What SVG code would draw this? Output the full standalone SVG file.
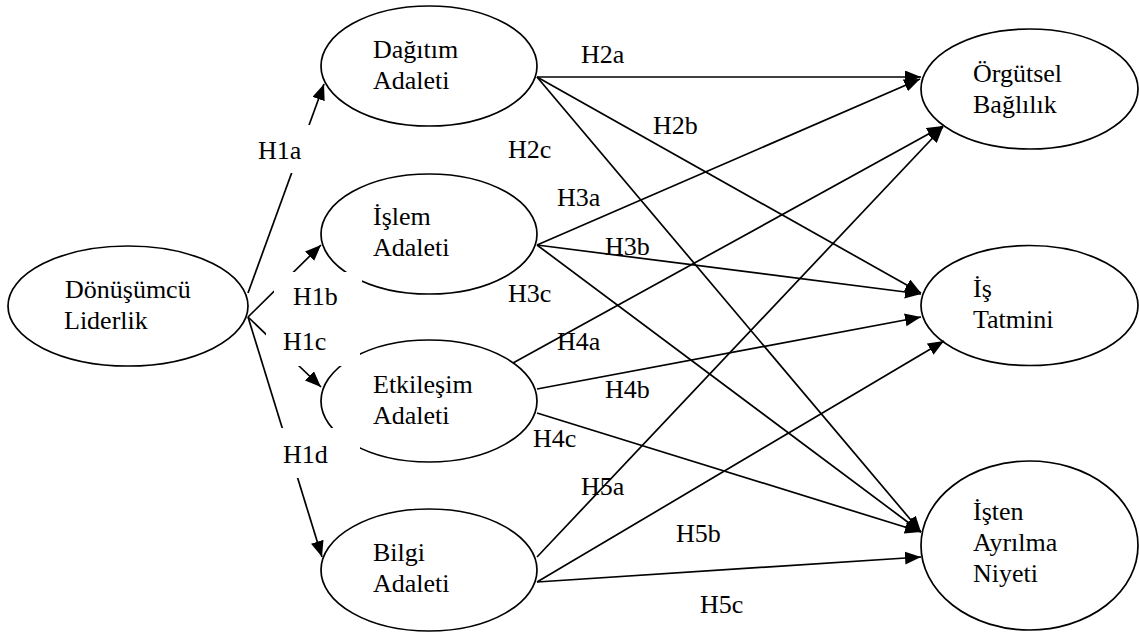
<svg xmlns="http://www.w3.org/2000/svg" width="1139" height="635" viewBox="0 0 1139 635" font-family="'Liberation Serif', 'DejaVu Serif', serif">
  <style>
    .node ellipse { fill: #fff; stroke: #000; stroke-width: 1.7; }
    text { font-family: "Liberation Serif", "DejaVu Serif", serif; font-size: 26px; fill: #000; }
    .edge line { stroke: #000; stroke-width: 1.7; marker-end: url(#arrow); }
    .lbl rect { fill: #fff; stroke: none; }
  </style>
  <defs>
    <marker id="arrow" markerUnits="userSpaceOnUse" markerWidth="18" markerHeight="14" refX="16" refY="6.5" orient="auto">
      <path d="M0,0 L16,6.5 L0,13 z" fill="#000"/>
    </marker>
  </defs>
  <rect width="1139" height="635" fill="#fff"/>

  <!-- nodes -->
  <g id="donusumcu" class="node">
    <ellipse cx="128" cy="306" rx="120" ry="60"/>
    <text x="65" y="298" font-family="Liberation Serif, serif">Dönüşümcü</text>
    <text x="64" y="329" font-family="Liberation Serif, serif">Liderlik</text>
  </g>
  <g id="dagitim" class="node">
    <ellipse cx="429" cy="66" rx="108" ry="60"/>
    <text x="373" y="58">Dağıtım</text>
    <text x="373" y="89">Adaleti</text>
  </g>
  <g id="islem" class="node">
    <ellipse cx="429" cy="234" rx="108" ry="60"/>
    <text x="373" y="225">İşlem</text>
    <text x="373" y="256">Adaleti</text>
  </g>
  <g id="etkilesim" class="node">
    <ellipse cx="429" cy="401" rx="108" ry="61"/>
    <text x="373" y="393">Etkileşim</text>
    <text x="373" y="424">Adaleti</text>
  </g>
  <g id="bilgi" class="node">
    <ellipse cx="429" cy="570" rx="108" ry="61"/>
    <text x="373" y="561">Bilgi</text>
    <text x="373" y="592">Adaleti</text>
  </g>
  <g id="orgutsel" class="node">
    <ellipse cx="1029.5" cy="89" rx="108.5" ry="60"/>
    <text x="973" y="82">Örgütsel</text>
    <text x="973" y="113">Bağlılık</text>
  </g>
  <g id="istatmini" class="node">
    <ellipse cx="1029.5" cy="305.5" rx="108.5" ry="60"/>
    <text x="973" y="297">İş</text>
    <text x="973" y="328">Tatmini</text>
  </g>
  <g id="istenayrilma" class="node">
    <ellipse cx="1029.5" cy="545.5" rx="108.5" ry="84.5"/>
    <text x="973" y="520">İşten</text>
    <text x="973" y="551">Ayrılma</text>
    <text x="973" y="582">Niyeti</text>
  </g>

  <!-- connectors -->
  <g id="connectors" class="edge">
    <line x1="248" y1="293" x2="324" y2="84"/>
    <line x1="248" y1="317" x2="321" y2="245"/>
    <line x1="248" y1="317" x2="321" y2="387"/>
    <line x1="248" y1="317" x2="322" y2="557"/>

    <line x1="537" y1="77" x2="921" y2="77"/>
    <line x1="537" y1="77" x2="921" y2="293"/>
    <line x1="537" y1="77" x2="921" y2="532"/>

    <line x1="537" y1="245" x2="920" y2="79"/>
    <line x1="537" y1="245" x2="921" y2="294"/>
    <line x1="537" y1="245" x2="921" y2="532"/>

    <line x1="513" y1="363" x2="943" y2="126"/>
    <line x1="537" y1="389" x2="921" y2="317"/>
    <line x1="537" y1="413" x2="921" y2="532"/>

    <line x1="537" y1="557" x2="943" y2="127"/>
    <line x1="537" y1="582" x2="944" y2="341"/>
    <line x1="537" y1="582" x2="921" y2="557"/>
  </g>

  <!-- hypothesis labels -->
  <g id="labels" class="lbl">
    <rect x="252" y="125" width="78" height="48"/>
    <rect x="274" y="272" width="88" height="46"/>
    <rect x="266" y="330" width="94" height="36"/>
    <rect x="270" y="428" width="90" height="50"/>
    <text x="258" y="159">H1a</text>
    <text x="293" y="305">H1b</text>
    <text x="283" y="350">H1c</text>
    <text x="283" y="463">H1d</text>
    <text x="581" y="63">H2a</text>
    <text x="653" y="134">H2b</text>
    <text x="508" y="158">H2c</text>
    <text x="557" y="206">H3a</text>
    <text x="605" y="255">H3b</text>
    <text x="508" y="302">H3c</text>
    <text x="557" y="350">H4a</text>
    <text x="605" y="398">H4b</text>
    <text x="533" y="447">H4c</text>
    <text x="581" y="495">H5a</text>
    <text x="676" y="542">H5b</text>
    <text x="700" y="613">H5c</text>
  </g>
</svg>
